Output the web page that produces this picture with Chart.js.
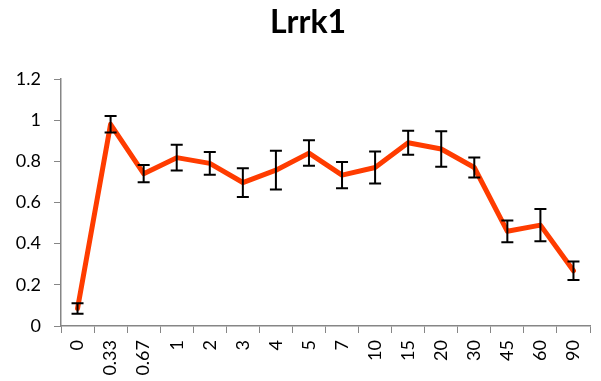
<!DOCTYPE html>
<html>
<head>
<meta charset="utf-8">
<script src="https://cdn.jsdelivr.net/npm/chart.js@4/dist/chart.umd.min.js"></script>
<style>
  html, body { margin: 0; padding: 0; background: #fff; }
</style>
</head>
<body>
<canvas id="chart" width="601" height="381"></canvas>
<script>
const timeLabels = ['0', '0.33', '0.67', '1', '2', '3', '4', '5', '7', '10', '15', '20', '30', '45', '60', '90'];
const lrrk1Values = [0.085, 0.98, 0.74, 0.818, 0.79, 0.697, 0.757, 0.84, 0.733, 0.77, 0.89, 0.86, 0.77, 0.46, 0.49, 0.268];
const lrrk1Errors = [0.025, 0.04, 0.042, 0.062, 0.055, 0.07, 0.094, 0.062, 0.064, 0.078, 0.058, 0.086, 0.049, 0.053, 0.078, 0.045];

// draws the black error bars on top of the line
const errorBars = {
  id: 'errorBars',
  afterDatasetsDraw(chart) {
    const ctx = chart.ctx;
    const xs = chart.scales.x, ys = chart.scales.y;
    ctx.save();
    ctx.strokeStyle = '#000';
    ctx.lineWidth = 2;
    lrrk1Values.forEach((v, i) => {
      const x = xs.getPixelForValue(i);
      const top = ys.getPixelForValue(v + lrrk1Errors[i]);
      const bot = ys.getPixelForValue(v - lrrk1Errors[i]);
      ctx.beginPath();
      ctx.moveTo(x, top); ctx.lineTo(x, bot);
      ctx.moveTo(x - 6, top); ctx.lineTo(x + 6, top);
      ctx.moveTo(x - 6, bot); ctx.lineTo(x + 6, bot);
      ctx.stroke();
    });
    ctx.restore();
  }
};

const ctx = document.getElementById('chart').getContext('2d');
const chart = new Chart(ctx, {
  type: 'line',
  data: {
    labels: timeLabels,
    datasets: [{
      label: 'Lrrk1',
      data: lrrk1Values,
      borderColor: '#FF3C00',
      backgroundColor: '#FF3C00',
      borderWidth: 5,
      borderJoinStyle: 'round',
      borderCapStyle: 'round',
      pointRadius: 0,
      tension: 0
    }]
  },
  options: {
    responsive: false,
    animation: false,
    layout: { padding: { left: 15, right: 0, top: 0, bottom: 0 } },
    plugins: {
      legend: { display: false },
      tooltip: { enabled: false },
      title: {
        display: true,
        text: 'Lrrk1',
        color: '#000',
        font: { family: 'Lato', size: 32, weight: 'bold' },
        padding: { top: 3, bottom: 37.6 }
      }
    },
    scales: {
      x: {
        offset: true,
        grid: {
          offset: true,
          drawOnChartArea: false,
          drawTicks: true,
          tickLength: 7,
          color: '#868686'
        },
        border: { display: true, color: '#868686', width: 1.5 },
        ticks: {
          color: '#000',
          font: { family: 'Lato', size: 18 },
          minRotation: 90,
          maxRotation: 90,
          padding: 7,
          autoSkip: false
        },
        afterFit(scale) { scale.height = 55; scale.paddingRight = 11; }
      },
      y: {
        min: 0,
        max: 1.2,
        grid: {
          drawOnChartArea: false,
          drawTicks: true,
          tickLength: 7,
          color: '#868686'
        },
        border: { display: true, color: '#868686', width: 1.5 },
        ticks: {
          stepSize: 0.2,
          color: '#000',
          font: { family: 'Lato', size: 18 },
          padding: 13,
          callback: v => String(+v.toFixed(1))
        },
        afterFit(scale) { scale.width = 46; }
      }
    }
  },
  plugins: [errorBars]
});
</script>
</body>
</html>
